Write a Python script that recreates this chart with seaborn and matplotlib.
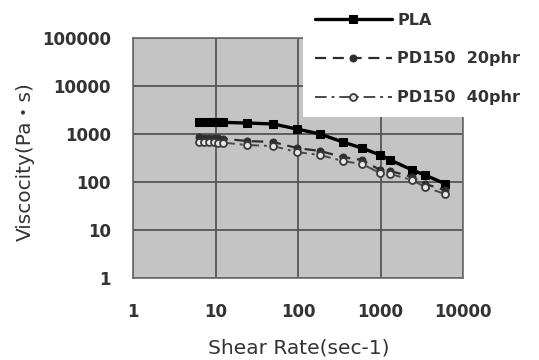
import matplotlib
matplotlib.use("Agg")
import matplotlib.pyplot as plt
from matplotlib.patches import Rectangle
from matplotlib.ticker import FixedLocator, FixedFormatter, NullLocator
import pandas as pd
import seaborn as sns

# Shear rate (1/s) and melt viscosity (Pa·s) per sample
shear_rate = [6.3, 7.2, 8.3, 9.5, 10.8, 12.3, 24, 50, 97, 185, 350, 595,
              990, 1310, 2410, 3460, 6050]
visc_pla = [1800, 1790, 1780, 1770, 1760, 1750, 1690, 1620, 1270, 1000, 680,
            510, 365, 288, 178, 140, 92]
visc_pd150_20 = [850, 840, 830, 820, 810, 800, 715, 680, 510, 443, 330, 288,
                 178, 170, 127, 91, 68]
visc_pd150_40 = [690, 680, 675, 670, 665, 660, 590, 560, 420, 365, 273, 237,
                 154, 147, 110, 79, 56]

series_names = ["PLA", "PD150  20phr", "PD150  40phr"]
x_ticks = [1, 10, 100, 1000, 10000]
y_ticks = [1, 10, 100, 1000, 10000, 100000]

sns.set_style("white")
plt.rcParams["font.family"] = ["DejaVu Sans", "Noto Sans CJK JP"]
plt.rcParams["font.weight"] = "bold"

TEXT = "#333333"
W, H = 539, 360
fig = plt.figure(figsize=(W / 100, H / 100), dpi=100)
ax = fig.add_axes([133 / W, 1 - 278 / H, 330 / W, 240 / H])
ax.set_facecolor("#c4c4c4")

frames = {
    series_names[0]: visc_pla,
    series_names[1]: visc_pd150_20,
    series_names[2]: visc_pd150_40,
}
styles = {
    series_names[0]: dict(color="black", linestyle="-", linewidth=2.4,
                          marker="s", markersize=5.5, markerfacecolor="black",
                          markeredgecolor="black"),
    series_names[1]: dict(color="#2e2e2e", linestyle=(0, (5, 3)), linewidth=1.6,
                          marker="o", markersize=5, markerfacecolor="#2e2e2e",
                          markeredgecolor="#2e2e2e"),
    series_names[2]: dict(color="#4a4a4a", linestyle=(0, (6, 2.5, 1.5, 2.5)),
                          linewidth=1.4, marker="o", markersize=5,
                          markerfacecolor="#e8e8e8", markeredgecolor="#3a3a3a",
                          markeredgewidth=1.3),
}

for name, visc in frames.items():
    df = pd.DataFrame({"rate": shear_rate, "visc": visc})
    sns.lineplot(data=df, x="rate", y="visc", ax=ax, estimator=None,
                 sort=True, label=name, zorder=3, **styles[name])

ax.set_xscale("log")
ax.set_yscale("log")
ax.set_xlim(1, 10000)
ax.set_ylim(1, 100000)

ax.xaxis.set_major_locator(FixedLocator(x_ticks))
ax.xaxis.set_major_formatter(FixedFormatter([str(v) for v in x_ticks]))
ax.yaxis.set_major_locator(FixedLocator(y_ticks))
ax.yaxis.set_major_formatter(FixedFormatter([str(v) for v in y_ticks]))
ax.xaxis.set_minor_locator(NullLocator())
ax.yaxis.set_minor_locator(NullLocator())
ax.tick_params(axis="both", length=0, labelsize=12, colors=TEXT)
ax.tick_params(axis="y", pad=16)
ax.tick_params(axis="x", pad=18)

ax.grid(True, color="#555555", linewidth=1.3)
ax.set_axisbelow(True)
for sp in ax.spines.values():
    sp.set_color("#6a6a6a")
    sp.set_linewidth(1.2)

ax.set_xlabel("Shear Rate(sec-1)", fontsize=14.5, color=TEXT,
              va="center", ha="center", fontweight="normal")
ax.set_ylabel("Viscocity(Pa・s)", fontsize=14.5, color=TEXT,
              va="center", ha="center", fontweight="normal")
ax.xaxis.set_label_coords((299 - 133) / 330, (278 - 348) / 240)
ax.yaxis.set_label_coords((25 - 133) / 330, (278 - 162) / 240)

# Legend panel sits over the upper right corner of the plot
fig.patches.append(Rectangle((303 / W, 1 - 117 / H), 1, 1, transform=fig.transFigure,
                             facecolor="white", edgecolor="none", zorder=4))
handles, labels = ax.get_legend_handles_labels()
ax.get_legend().remove()
leg = fig.legend(handles, labels, loc="center left",
                 bbox_to_anchor=(315 / W, 1 - 59 / H), frameon=False,
                 fontsize=11.5, handlelength=4.8, handletextpad=0.35,
                 labelspacing=1.5, borderpad=0, borderaxespad=0)
for t in leg.get_texts():
    t.set_color(TEXT)

fig.savefig("out.png", dpi=100)
